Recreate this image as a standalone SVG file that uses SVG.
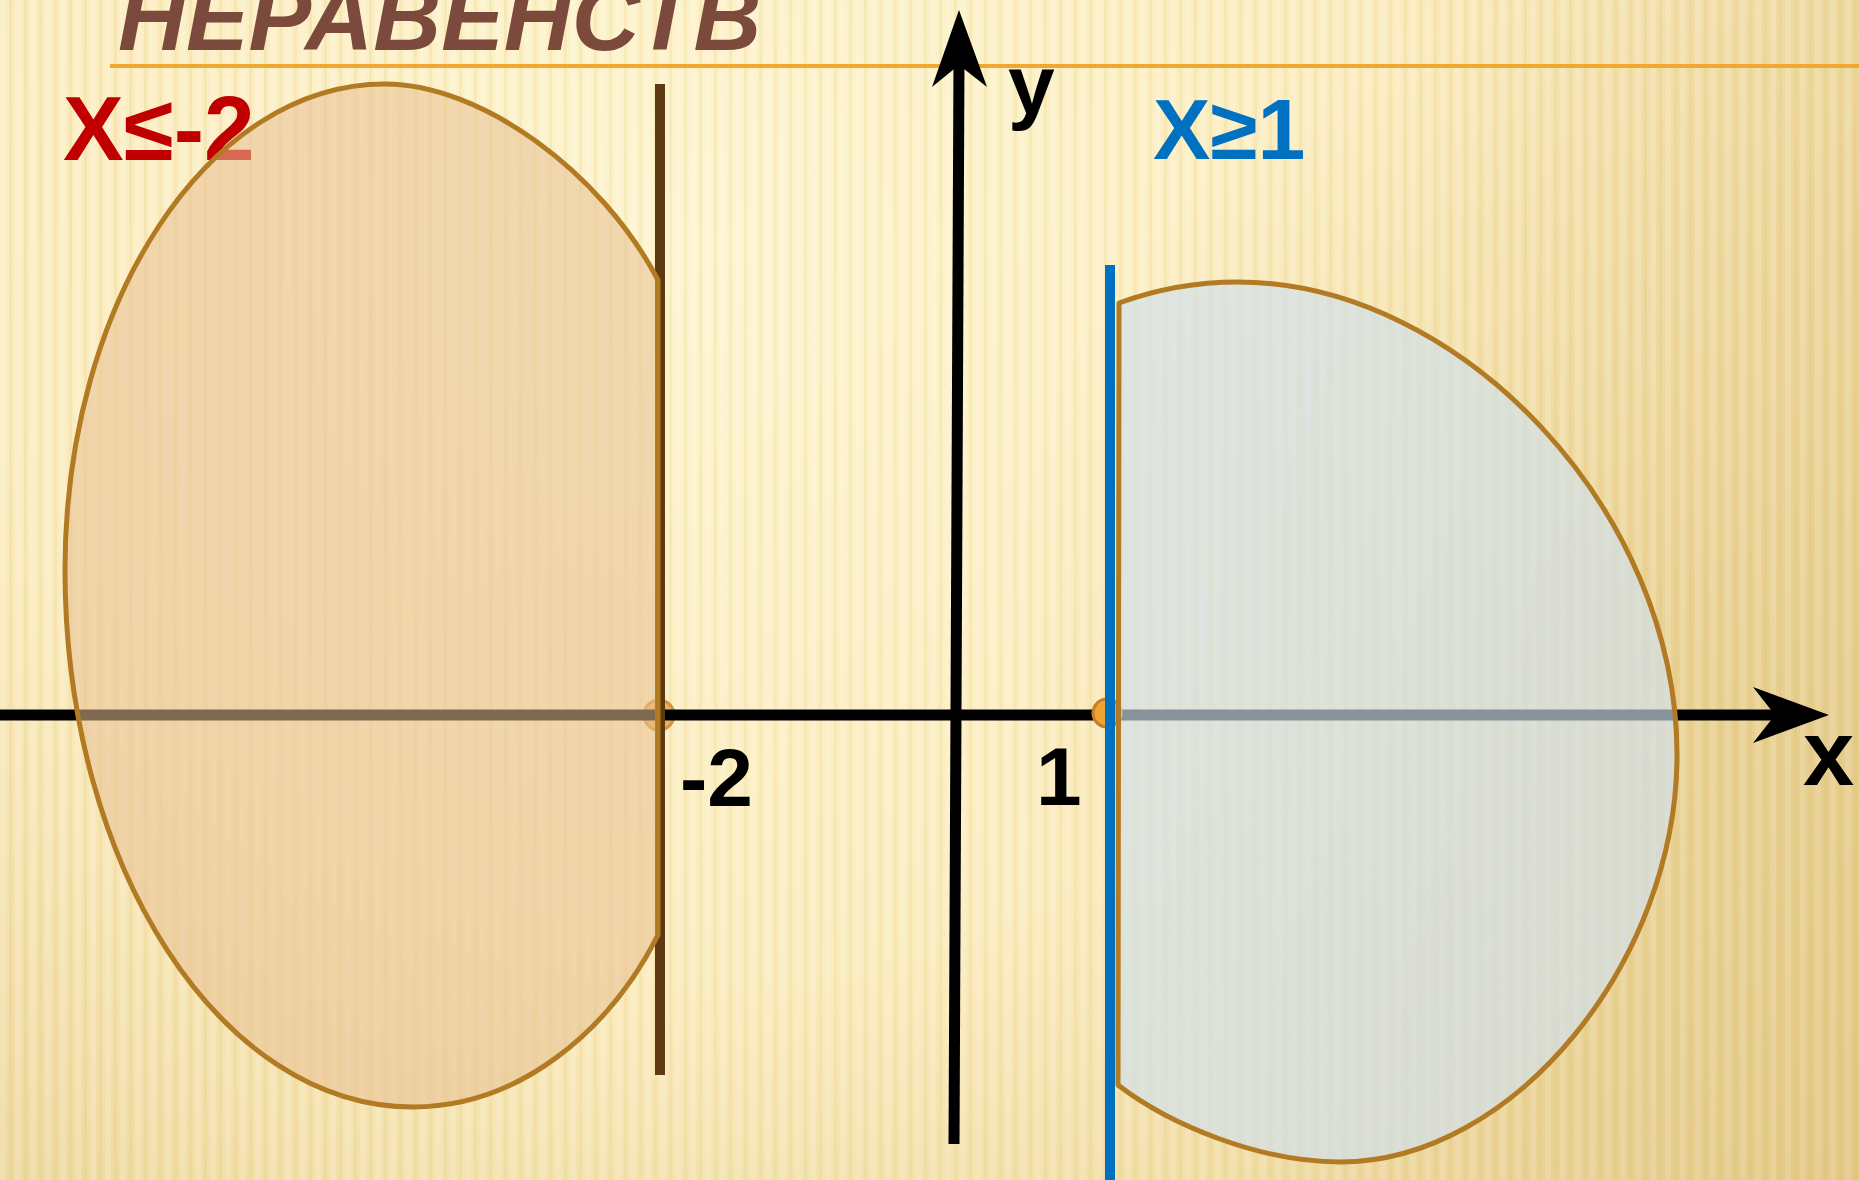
<svg xmlns="http://www.w3.org/2000/svg" width="1859" height="1180" viewBox="0 0 1859 1180">
  <style>
    .lbl { font-family: "Liberation Sans", Arial, sans-serif; font-weight: bold; }
    .shape-stroke { stroke: #b27a22; stroke-width: 5; stroke-linejoin: round; }
  </style>
  <defs>
    <radialGradient id="bg" cx="700" cy="250" r="1600" gradientUnits="userSpaceOnUse">
      <stop offset="0" stop-color="#fef4cd"/>
      <stop offset="0.45" stop-color="#fbecbd"/>
      <stop offset="1" stop-color="#e0c47e"/>
    </radialGradient>
    <radialGradient id="shade" cx="1650" cy="650" r="650" gradientUnits="userSpaceOnUse">
      <stop offset="0" stop-color="#d6b262" stop-opacity="0.28"/>
      <stop offset="0.7" stop-color="#d6b262" stop-opacity="0.12"/>
      <stop offset="1" stop-color="#d6b262" stop-opacity="0"/>
    </radialGradient>
    <pattern id="stripes" width="15" height="40" patternUnits="userSpaceOnUse">
      <rect x="0" y="0" width="6" height="40" fill="#ffffff" opacity="0.22"/>
      <rect x="9" y="0" width="3" height="40" fill="#c9a04a" opacity="0.10"/>
    </pattern>
    <linearGradient id="stripeFade" x1="0" y1="0" x2="1" y2="1">
      <stop offset="0" stop-color="#fff" stop-opacity="1"/>
      <stop offset="1" stop-color="#fff" stop-opacity="0.6"/>
    </linearGradient>
    <mask id="stripeMask">
      <rect width="1859" height="1180" fill="url(#stripeFade)"/>
    </mask>
  </defs>

  <g id="background">
    <rect width="1859" height="1180" fill="url(#bg)"/>
    <rect width="1859" height="1180" fill="url(#shade)"/>
    <rect width="1859" height="1180" fill="url(#stripes)" mask="url(#stripeMask)"/>
  </g>

  <g id="title">
    <line x1="110" y1="66" x2="1859" y2="66" stroke="#f0a830" stroke-width="4"/>
    <text class="lbl" x="118" y="50" font-size="94" font-style="italic" fill="#7b4a3c">НЕРАВЕНСТВ</text>
  </g>

  <g id="label-left">
    <text class="lbl" x="63" y="160" font-size="91" fill="#c00000">X≤-2</text>
  </g>
  <g id="label-right">
    <text class="lbl" x="1153" y="159" font-size="86" fill="#0070c0">X≥1</text>
  </g>

  <g id="connectors">
    <circle id="point-minus2" cx="659" cy="715" r="15" fill="#f2a432" stroke="#c47f2a" stroke-width="3" opacity="0.8"/>
    <line id="x-axis" x1="0" y1="715" x2="1778" y2="715" stroke="#000" stroke-width="11"/>
    <polygon points="1829,715 1753,687 1775,715 1753,743" fill="#000"/>
    <line id="y-axis" x1="954" y1="1144" x2="959" y2="60" stroke="#000" stroke-width="11"/>
    <polygon points="959,10 987,87 959,65 932,87" fill="#000"/>
    <line id="line-minus2" x1="660" y1="84" x2="660" y2="1075" stroke="#5e3a12" stroke-width="10"/>
    <circle id="point-1" cx="1107" cy="713" r="14" fill="#f2a432" stroke="#c47f2a" stroke-width="3"/>
    <line id="line-1" x1="1110" y1="265" x2="1110" y2="1180" stroke="#0070c0" stroke-width="10"/>
  </g>

  <g id="region-left">
    <path d="M658,280 C600,170 480,84 385,84 C208,84 65,302 65,570 C65,867 221,1107 413,1107 C520,1107 610,1030 658,935 Z" fill="#e8bf92" fill-opacity="0.55" class="shape-stroke"/>
  </g>

  <g id="region-right">
    <path d="M1119,303 C1160,288 1200,282 1238,282 C1460,282 1677,510 1677,755 C1677,960 1515,1162 1340,1162 C1260,1162 1170,1125 1118,1085 Z" fill="#d0e0ee" fill-opacity="0.65" class="shape-stroke"/>
  </g>

  <g id="axis-labels">
    <text class="lbl" x="1008" y="114" font-size="84" fill="#000">y</text>
    <text class="lbl" x="1803" y="785" font-size="92" fill="#000">x</text>
    <text class="lbl" x="680" y="806" font-size="82" fill="#000">-2</text>
    <text class="lbl" x="1036" y="805" font-size="82" fill="#000">1</text>
  </g>
</svg>
